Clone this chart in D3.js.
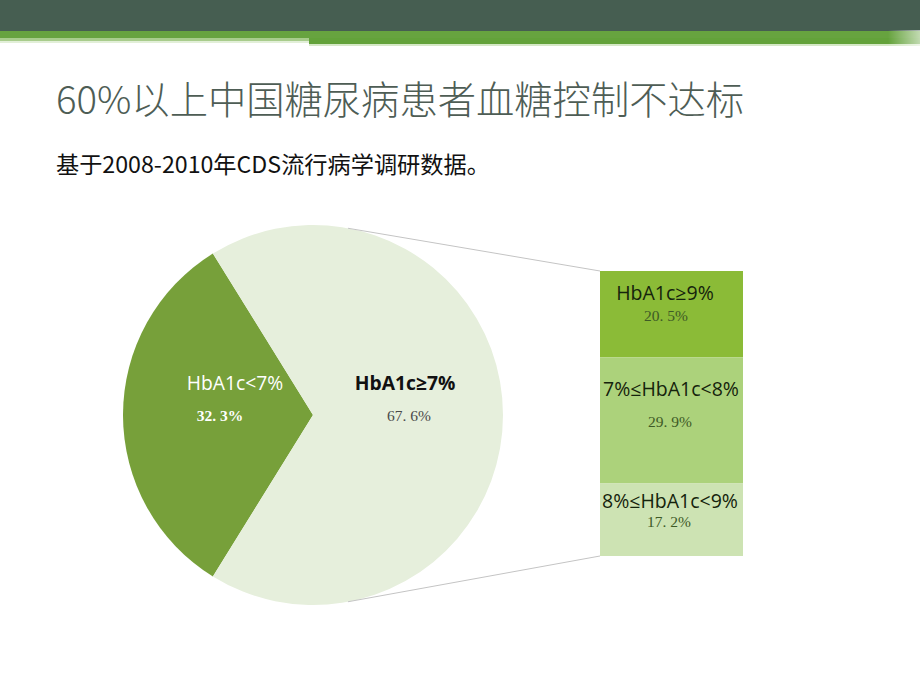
<!DOCTYPE html>
<html><head><meta charset="utf-8">
<script src="https://cdn.jsdelivr.net/npm/d3@7"></script>
<style>body{margin:0;background:#fff}svg{display:block}</style>
</head><body>
<script>
const title = "60%以上中国糖尿病患者血糖控制不达标";
const subtitle = "基于2008-2010年CDS流行病学调研数据。";
const pieLabels = ["HbA1c<7%", "HbA1c≥7%"];
const pieValues = [32.3, 67.6];
const pieValueText = ["32. 3%", "67. 6%"];
const barLabels = ["HbA1c≥9%", "7%≤HbA1c<8%", "8%≤HbA1c<9%"];
const barValues = [20.5, 29.9, 17.2];
const barValueText = ["20. 5%", "29. 9%", "17. 2%"];

const W = 920, H = 690;
const svg = d3.select("body").append("svg").attr("width", W).attr("height", H);

// header bands
svg.append("rect").attr("x",0).attr("y",0).attr("width",W).attr("height",31).attr("fill","#465e51");
svg.append("rect").attr("x",0).attr("y",31).attr("width",W).attr("height",7).attr("fill","#67a33f");
svg.append("rect").attr("x",0).attr("y",38).attr("width",309).attr("height",3).attr("fill","#a8cc8c");
svg.append("rect").attr("x",0).attr("y",41).attr("width",309).attr("height",2).attr("fill","#e2efd8");
svg.append("rect").attr("x",309).attr("y",38).attr("width",W-309).attr("height",6).attr("fill","#63a23a");
svg.append("rect").attr("x",309).attr("y",44).attr("width",W-309).attr("height",2).attr("fill","#d5e8c6");
const grad = svg.append("defs").append("linearGradient").attr("id","fade");
grad.append("stop").attr("offset","0").attr("stop-color","#fff").attr("stop-opacity",0);
grad.append("stop").attr("offset","1").attr("stop-color","#fff").attr("stop-opacity",0.6);
svg.append("rect").attr("x",888).attr("y",30).attr("width",32).attr("height",16).attr("fill","url(#fade)");

// titles
svg.append("text").attr("x",56).attr("y",114).text(title)
  .attr("font-family","'Noto Sans CJK SC','Noto Sans',sans-serif").attr("font-weight",300)
  .attr("font-size",38.3).attr("fill","#4e5d55");
svg.append("text").attr("x",56).attr("y",173).text(subtitle)
  .attr("font-family","'Noto Sans CJK SC','Noto Sans',sans-serif")
  .attr("font-size",23.2).attr("fill","#111");

// pie
const cx = 313, cy = 415, R = 190;
const total = d3.sum(pieValues);
const frac = pieValues[0] / total;
const start = 1.5 * Math.PI - frac * Math.PI;
const pie = d3.pie().sort(null).startAngle(start).endAngle(start + 2 * Math.PI);
const arc = d3.arc().innerRadius(0).outerRadius(R);
const pieColors = ["#77a03a", "#e6efdc"];
const g = svg.append("g").attr("transform", `translate(${cx},${cy})`);
g.selectAll("path").data(pie(pieValues)).join("path")
  .attr("d", arc).attr("fill", (d, i) => pieColors[i]);

// bar of pie
const barX = 600, barW = 143, barTop = 271;
const y = d3.scaleLinear().domain([0, d3.sum(barValues)]).range([0, 285]);
const cum = d3.cumsum([0, ...barValues]);
const barColors = ["#8bbb37", "#acd27b", "#cde3b3"];
svg.selectAll("rect.seg").data(barValues).join("rect").attr("class","seg")
  .attr("x", barX).attr("width", barW)
  .attr("y", (d, i) => barTop + y(cum[i])).attr("height", d => y(d))
  .attr("fill", (d, i) => barColors[i]);

// connector lines
const connAng = 0.185;
const p1 = [cx + R * Math.sin(connAng), cy - R * Math.cos(connAng)];
const p2 = [cx + R * Math.sin(connAng), cy + R * Math.cos(connAng)];
svg.append("line").attr("x1",p1[0]).attr("y1",p1[1]).attr("x2",barX).attr("y2",barTop)
  .attr("stroke","#c4c4c4").attr("stroke-width",1);
svg.append("line").attr("x1",p2[0]).attr("y1",p2[1]).attr("x2",barX).attr("y2",barTop + y(cum[3]))
  .attr("stroke","#c4c4c4").attr("stroke-width",1);

// pie labels
const sansF = "'Open Sans','Noto Sans',sans-serif";
const serifF = "'Liberation Serif','DejaVu Serif',serif";
const pieLab = [{x:235, vx:220, c:"#ffffff", vc:"#ffffff", w:400, vw:700}, {x:405, vx:409, c:"#111", vc:"#4a4a4a", w:700, vw:400}];
pieLab.forEach((p, i) => {
  svg.append("text").attr("x",p.x).attr("y",390).attr("text-anchor","middle")
    .attr("font-family",sansF).attr("font-size",19.3).attr("font-weight",p.w).attr("fill",p.c).text(pieLabels[i]);
  svg.append("text").attr("x",p.vx).attr("y",421).attr("text-anchor","middle")
    .attr("font-family",serifF).attr("font-size",15.5).attr("font-weight",p.vw).attr("fill",p.vc).text(pieValueText[i]);
});

// bar labels
const barLabY = [[300, 321], [396, 427], [508, 527]];
const barLabX = [[665, 666], [671, 670], [670, 669]];
barValues.forEach((v, i) => {
  svg.append("text").attr("x",barLabX[i][0]).attr("y",barLabY[i][0]).attr("text-anchor","middle")
    .attr("font-family",sansF).attr("font-size",19.5).attr("fill","#15230c").text(barLabels[i]);
  svg.append("text").attr("x",barLabX[i][1]).attr("y",barLabY[i][1]).attr("text-anchor","middle")
    .attr("font-family",serifF).attr("font-size",15.5).attr("fill","#3e5a26").text(barValueText[i]);
});
</script>
</body></html>
